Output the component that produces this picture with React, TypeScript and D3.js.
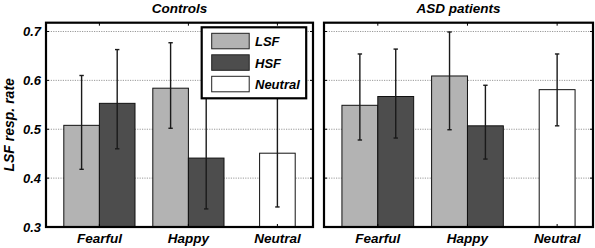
import React from "react";
import * as d3 from "d3";

const categories = ["Fearful", "Happy", "Neutral"];
const yTicks = [0.3, 0.4, 0.5, 0.6, 0.7];
const seriesNames = ["LSF", "HSF", "Neutral"];

// Controls
const ctrlLSF = [0.508, 0.584];
const ctrlLSFLo = [0.418, 0.502];
const ctrlLSFHi = [0.61, 0.677];
const ctrlHSF = [0.553, 0.441];
const ctrlHSFLo = [0.46, 0.337];
const ctrlHSFHi = [0.663, 0.585];
const ctrlNeutral = [0.451];
const ctrlNeutralLo = [0.341];
const ctrlNeutralHi = [0.59];

// ASD patients
const asdLSF = [0.549, 0.609];
const asdLSFLo = [0.478, 0.499];
const asdLSFHi = [0.654, 0.699];
const asdHSF = [0.567, 0.507];
const asdHSFLo = [0.482, 0.439];
const asdHSFHi = [0.664, 0.59];
const asdNeutral = [0.581];
const asdNeutralLo = [0.507];
const asdNeutralHi = [0.654];

const COLORS: Record<string, string> = { LSF: "#b3b3b3", HSF: "#4d4d4d", Neutral: "#ffffff" };
const FONT = "'Liberation Sans', Arial, Helvetica, sans-serif";

type Bar = { series: string; cat: number; offset: number; v: number; lo: number; hi: number };

function buildBars(lsf: number[], lsfLo: number[], lsfHi: number[], hsf: number[], hsfLo: number[], hsfHi: number[], neu: number[], neuLo: number[], neuHi: number[]): Bar[] {
  const bars: Bar[] = [];
  lsf.forEach((v, i) => {
    bars.push({ series: "LSF", cat: i + 1, offset: -0.2, v, lo: lsfLo[i], hi: lsfHi[i] });
    bars.push({ series: "HSF", cat: i + 1, offset: 0.2, v: hsf[i], lo: hsfLo[i], hi: hsfHi[i] });
  });
  neu.forEach((v, i) => {
    bars.push({ series: "Neutral", cat: 3 + i, offset: 0, v, lo: neuLo[i], hi: neuHi[i] });
  });
  return bars;
}

const Y0 = 22.7;
const Y1 = 227;
const BAR_W = 0.4;

function Panel({ x0, x1, title, bars, showY, legend }: { x0: number; x1: number; title: string; bars: Bar[]; showY: boolean; legend: boolean }) {
  const x = d3.scaleLinear().domain([0.4, 3.4]).range([x0, x1]);
  const y = d3.scaleLinear().domain([0.3, 0.718]).range([Y1, Y0]);
  const bw = x(BAR_W) - x(0);
  const tickLen = 3;
  return (
    <g>
      <text x={(x0 + x1) / 2} y={13} textAnchor="middle" fontFamily={FONT} fontWeight="bold" fontStyle="italic" fontSize={13.5}>
        {title}
      </text>
      {yTicks.slice(1).map((t) => (
        <line key={"g" + t} x1={x0} x2={x1} y1={y(t)} y2={y(t)} stroke="#999" strokeWidth={1} strokeDasharray="1.2,1.2" />
      ))}
      {bars.map((b, i) => (
        <rect key={"b" + i} x={x(b.cat + b.offset) - bw / 2} y={y(b.v)} width={bw} height={y(0.3) - y(b.v)} fill={COLORS[b.series]} stroke="#111" strokeWidth={1} />
      ))}
      {bars.map((b, i) => {
        const cx = x(b.cat + b.offset);
        return (
          <g key={"e" + i} stroke="#1a1a1a" strokeWidth={1.4}>
            <line x1={cx} x2={cx} y1={y(b.lo)} y2={y(b.hi)} />
            <line x1={cx - 2.2} x2={cx + 2.2} y1={y(b.lo)} y2={y(b.lo)} />
            <line x1={cx - 2.2} x2={cx + 2.2} y1={y(b.hi)} y2={y(b.hi)} />
          </g>
        );
      })}
      {yTicks.slice(1).map((t) => (
        <g key={"t" + t} stroke="#000" strokeWidth={1}>
          <line x1={x0} x2={x0 + tickLen} y1={y(t)} y2={y(t)} />
          <line x1={x1} x2={x1 - tickLen} y1={y(t)} y2={y(t)} />
        </g>
      ))}
      {categories.map((c, i) => (
        <g key={"xt" + c} stroke="#000" strokeWidth={1}>
          <line x1={x(i + 1)} x2={x(i + 1)} y1={Y0} y2={Y0 + tickLen} />
          <line x1={x(i + 1)} x2={x(i + 1)} y1={Y1} y2={Y1 - tickLen} />
        </g>
      ))}
      <rect x={x0} y={Y0} width={x1 - x0} height={Y1 - Y0} fill="none" stroke="#000" strokeWidth={2.2} />
      {showY &&
        yTicks.map((t) => (
          <text key={"yl" + t} x={x0 - 5} y={y(t) + 4.5} textAnchor="end" fontFamily={FONT} fontWeight="bold" fontStyle="italic" fontSize={13}>
            {t.toFixed(1)}
          </text>
        ))}
      {categories.map((c, i) => (
        <text key={"xl" + c} x={x(i + 1)} y={243} textAnchor="middle" fontFamily={FONT} fontWeight="bold" fontStyle="italic" fontSize={13.5}>
          {c}
        </text>
      ))}
      {legend && (
        <g>
          <rect x={201.7} y={27.3} width={104.5} height={71} fill="#fff" stroke="#000" strokeWidth={2.2} />
          {seriesNames.map((s, i) => (
            <g key={"lg" + s}>
              <rect x={211.7} y={33.3 + i * 21.5} width={37.5} height={15.5} fill={COLORS[s]} stroke="#222" strokeWidth={1} />
              <text x={255} y={46 + i * 21.5} fontFamily={FONT} fontWeight="bold" fontStyle="italic" fontSize={13}>
                {s}
              </text>
            </g>
          ))}
        </g>
      )}
    </g>
  );
}

export default function App() {
  const ctrlBars = buildBars(ctrlLSF, ctrlLSFLo, ctrlLSFHi, ctrlHSF, ctrlHSFLo, ctrlHSFHi, ctrlNeutral, ctrlNeutralLo, ctrlNeutralHi);
  const asdBars = buildBars(asdLSF, asdLSFLo, asdLSFHi, asdHSF, asdHSFLo, asdHSFHi, asdNeutral, asdNeutralLo, asdNeutralHi);
  return (
    <svg width={595} height={248} style={{ position: "absolute", left: 0, top: 0, background: "#fff" }}>
      <rect x={0} y={0} width={595} height={248} fill="#fff" />
      <text transform={`translate(13.5, ${(Y0 + Y1) / 2}) rotate(-90)`} textAnchor="middle" fontFamily={FONT} fontWeight="bold" fontStyle="italic" fontSize={14}>
        LSF resp. rate
      </text>
      <Panel x0={46} x1={313} title="Controls" bars={ctrlBars} showY={true} legend={true} />
      <Panel x0={324} x1={593} title="ASD patients" bars={asdBars} showY={false} legend={false} />
    </svg>
  );
}
